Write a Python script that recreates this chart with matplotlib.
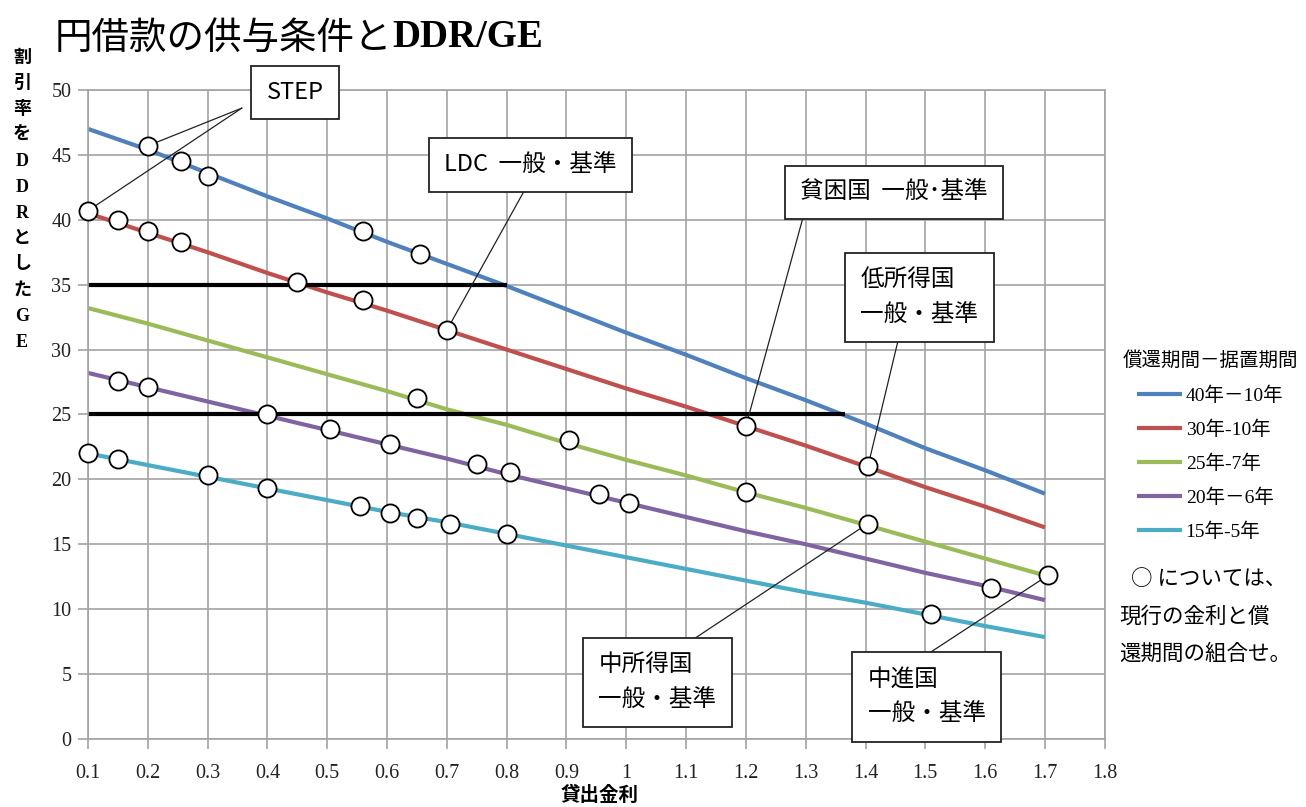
import numpy as np
import matplotlib
matplotlib.use("Agg")
import matplotlib.pyplot as plt
from matplotlib.font_manager import FontProperties

plt.rcParams['font.family'] = ['Noto Sans CJK JP', 'DejaVu Sans']

# ── データ ─────────────────────────────
rates = [0.1, 0.2, 0.3, 0.4, 0.5, 0.6, 0.7, 0.8, 0.9,
         1.0, 1.1, 1.2, 1.3, 1.4, 1.5, 1.6, 1.7]
ge_40_10 = [47.0, 45.4, 43.6, 41.8, 40.1, 38.3, 36.6, 34.9, 33.1,
            31.3, 29.6, 27.8, 26.1, 24.3, 22.4, 20.7, 18.9]
ge_30_10 = [40.5, 39.0, 37.5, 35.9, 34.4, 33.0, 31.5, 30.0, 28.5,
            27.0, 25.6, 24.1, 22.6, 21.0, 19.4, 17.9, 16.3]
ge_25_7 = [33.2, 32.0, 30.7, 29.4, 28.1, 26.8, 25.4, 24.2, 22.8,
           21.5, 20.3, 19.0, 17.8, 16.5, 15.2, 13.9, 12.6]
ge_20_6 = [28.2, 27.1, 26.0, 24.9, 23.8, 22.7, 21.6, 20.4, 19.3,
           18.2, 17.1, 16.0, 15.0, 13.9, 12.8, 11.8, 10.7]
ge_15_5 = [22.0, 21.1, 20.2, 19.3, 18.4, 17.5, 16.7, 15.8, 14.9,
           14.0, 13.1, 12.2, 11.3, 10.5, 9.6, 8.7, 7.85]
series_labels = ["40年－10年", "30年-10年", "25年-7年", "20年－6年", "15年-5年"]
series_colors = ["#4F81BD", "#C0504D", "#9BBB59", "#8064A2", "#4BACC6"]

# 現行の金利と償還期間の組合せ（○）
circle_x = [0.1, 0.2, 0.255, 0.3, 0.56, 0.655,
            0.15, 0.2, 0.255, 0.45, 0.56, 0.70, 1.2, 1.404,
            0.65, 0.905, 1.2, 1.404, 1.705,
            0.15, 0.2, 0.4, 0.505, 0.605, 0.75, 0.805, 0.955, 1.005, 1.61,
            0.1, 0.15, 0.3, 0.4, 0.555, 0.605, 0.65, 0.705, 0.80, 1.51]
circle_y = [40.7, 45.7, 44.5, 43.4, 39.1, 37.4,
            40.0, 39.1, 38.3, 35.2, 33.8, 31.5, 24.1, 21.0,
            26.3, 23.0, 19.0, 16.6, 12.6,
            27.6, 27.1, 25.0, 23.9, 22.7, 21.2, 20.6, 18.9, 18.2, 11.6,
            22.0, 21.6, 20.3, 19.3, 17.95, 17.4, 17.0, 16.6, 15.8, 9.6]

# DDR を割引率とした GE の基準線
ref_levels = [35, 25]
ref_ends = [0.8, 1.365]

# 注記: (テキスト, 箱の中心, 引出線の起点, 引出線の終点リスト)
notes = [
    ("STEP", (0.446, 49.8), (0.357, 48.6), [(0.2, 45.7), (0.1, 40.7)]),
    ("LDC  一般・基準", (0.840, 44.2), (0.829, 42.2), [(0.70, 31.5)]),
    ("貧困国  一般･基準", (1.448, 42.1), (1.295, 40.1), [(1.2, 24.1)]),
    ("低所得国\n一般・基準", (1.490, 34.0), (1.456, 31.0), [(1.404, 21.0)]),
    ("中所得国\n一般・基準", (1.052, 4.35), (1.103, 7.4), [(1.404, 16.6)]),
    ("中進国\n一般・基準", (1.502, 3.24), (1.496, 6.3), [(1.705, 12.6)]),
]

xticks = [round(0.1 * i, 1) for i in range(1, 19)]
xtick_labels = [("%g" % v) for v in xticks]
yticks = list(range(0, 55, 5))

# ── 描画 ───────────────────────────────
GRID = "#a3a3a3"
fig = plt.figure(figsize=(13.06, 8.07), dpi=100, facecolor="white")
ax = fig.add_axes([0.0674, 0.0843, 0.7785, 0.8042])

ax.set_xlim(0.1, 1.8)
ax.set_ylim(0, 50)
ax.set_xticks(xticks)
ax.set_xticklabels(xtick_labels)
ax.set_yticks(yticks)
ax.grid(True, color=GRID, linewidth=1.2)
ax.set_axisbelow(True)
for sp in ax.spines.values():
    sp.set_color(GRID)
    sp.set_linewidth(1.2)
ax.tick_params(colors=GRID, length=7, width=1.2)
ax.tick_params(axis="x", pad=11)
ax.tick_params(axis="y", pad=5)
for lab in ax.get_xticklabels() + ax.get_yticklabels():
    lab.set_fontfamily("Liberation Serif")
    lab.set_fontsize(14.5)
    lab.set_color("#222222")

all_series = [ge_40_10, ge_30_10, ge_25_7, ge_20_6, ge_15_5]
handles = []
for vals, col, lab in zip(all_series, series_colors, series_labels):
    h, = ax.plot(rates, vals, color=col, linewidth=3.0, label=lab,
                 solid_capstyle="butt", zorder=2, clip_on=False)
    handles.append(h)

for lvl, xe in zip(ref_levels, ref_ends):
    ax.plot([0.1, xe], [lvl, lvl], color="black", linewidth=3.0,
            solid_capstyle="butt", zorder=2.5, clip_on=False)

# 引出線
for text, center, start, ends in notes:
    for ex, ey in ends:
        ax.plot([start[0], ex], [start[1], ey], color="#222222",
                linewidth=0.9, zorder=3, clip_on=False)

ax.scatter(circle_x, circle_y, s=170, facecolor="white", edgecolor="black",
           linewidth=1.3, zorder=5, clip_on=False)

for text, center, start, ends in notes:
    ax.text(center[0], center[1], text, fontsize=17, ha="center",
            va="center", multialignment="left", linespacing=1.7,
            zorder=6, clip_on=False,
            bbox=dict(boxstyle="square,pad=0.65", facecolor="white",
                      edgecolor="#222222", linewidth=1.3))

# 凡例
leg = ax.legend(handles=handles, labels=series_labels,
                loc="upper left", bbox_to_anchor=(0.852, 0.578),
                bbox_transform=fig.transFigure, frameon=False,
                title="償還期間－据置期間", handlelength=2.3,
                handletextpad=0.2, labelspacing=0.8, borderpad=0,
                prop=FontProperties(family=["Liberation Serif", "Noto Sans CJK JP"], size=14))
leg.get_title().set_fontsize(14)

# 右側の説明
notes_right = ["○ については、", "現行の金利と償", "還期間の組合せ。"]
for i, s in enumerate(notes_right):
    fig.text(0.857 if i else 0.866, 0.282 - i * 0.046, s, fontsize=15.5,
             ha="left", va="center")

# タイトル
t1 = fig.text(0.042, 0.953, "円借款の供与条件と", fontsize=27,
              ha="left", va="center")
ax.annotate("DDR/GE", xy=(1.0, 0.5), xycoords=t1, ha="left", va="center",
            fontsize=28, fontweight="bold", family="Liberation Serif")

# 縦書きの軸ラベル
ylabel_chars = list("割引率をDDRとしたGE")
for i, ch in enumerate(ylabel_chars):
    fig.text(0.017, 0.928 - i * 0.032, ch, fontsize=13, fontweight="bold",
             ha="center", va="center",
             family=["Liberation Serif", "Noto Sans CJK JP"])

fig.text(0.459, 0.014, "貸出金利", fontsize=14, fontweight="bold",
         ha="center", va="center")

fig.savefig("out.png", dpi=100, facecolor="white")
